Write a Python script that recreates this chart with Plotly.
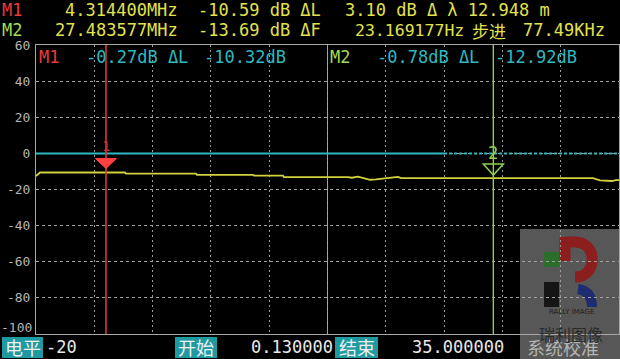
import plotly.graph_objects as go

# ---------------- data ----------------
freq_mhz = [0.13, 0.37, 5.45, 5.51, 9.70, 9.76, 13.11, 13.17, 14.90, 14.96,
            18.79, 19.03, 19.39, 19.69, 20.11, 20.47, 21.12, 21.48, 21.78, 21.96,
            33.44, 33.86, 34.58, 34.82, 35.00]
level_db = [-12.5, -10.6, -10.6, -11.2, -11.2, -11.9, -11.9, -12.3, -12.3, -13.1,
            -13.1, -13.5, -12.9, -13.7, -14.6, -14.4, -13.5, -13.0, -13.0, -13.7,
            -13.7, -15.0, -15.3, -14.8, -14.8]

ref_solid_x = [0.13, 24.539]
ref_solid_y = [0, 0]
ref_dot_x = [24.539, 35.0]
ref_dot_y = [0, 0]

x_start = 0.13
x_stop = 35.0
y_ticks = [60, 40, 20, 0, -20, -40, -60, -80]
y_bottom_tick = -100

m1_freq = 4.314400
m1_db = -10.59
m1_dl = 3.10
m1_lambda = 12.948
m1_rel = -0.27
m1_dl2 = -10.32

m2_freq = 27.483577
m2_db = -13.69
m2_df_hz = 23.169177
m2_step_khz = 77.49
m2_rel = -0.78
m2_dl2 = -12.92

level_setting = -20

# ---------------- styles ----------------
MONO = "DejaVu Sans Mono, Noto Sans CJK SC"
CJK = "Noto Sans CJK SC"
YEL = "#e2e24c"
RED = "#e83a3a"
GRN = "#a0dc50"
CYAN = "#2fb8c0"
TEAL = "#1e9aa0"
GRAY = "#a8a8a8"

L, T, R, B = 36, 45, 619, 334
W, H = R - L, B - T


def px(x):
    return (x - L) / W


def py(y):
    return (B - y) / H


fig = go.Figure()

# reference line (cyan)
fig.add_trace(go.Scatter(x=ref_solid_x, y=ref_solid_y, mode="lines",
                         line=dict(color=CYAN, width=2), hoverinfo="skip"))
fig.add_trace(go.Scatter(x=ref_dot_x, y=ref_dot_y, mode="lines",
                         line=dict(color=CYAN, width=2, dash="3px,2px"), hoverinfo="skip"))

# measured trace
fig.add_trace(go.Scatter(x=freq_mhz, y=level_db, mode="lines",
                         line=dict(color="#d2d23e", width=1.8), hoverinfo="skip"))

# marker lines
fig.add_trace(go.Scatter(x=[m1_freq, m1_freq], y=[-100, 60], mode="lines",
                         line=dict(color="#e03434", width=1.6), hoverinfo="skip"))
fig.add_trace(go.Scatter(x=[m2_freq, m2_freq], y=[-100, 60], mode="lines",
                         line=dict(color="#8ed048", width=1.4), hoverinfo="skip"))

shapes = []
# center solid grid line
shapes.append(dict(type="line", xref="x", yref="paper",
                   x0=(x_start + x_stop) / 2, x1=(x_start + x_stop) / 2, y0=0, y1=1,
                   line=dict(color=GRAY, width=1), layer="below"))

# marker triangles (pixel-sized, anchored at marker value)
shapes.append(dict(type="path", xref="x", yref="y", xsizemode="pixel", ysizemode="pixel",
                   xanchor=m1_freq, yanchor=m1_db,
                   path="M -10.5,14 L 10.5,14 L 0,4 Z",
                   fillcolor="#ff4040", line=dict(color="#ff4040", width=1), layer="above"))
shapes.append(dict(type="path", xref="x", yref="y", xsizemode="pixel", ysizemode="pixel",
                   xanchor=m2_freq, yanchor=m2_db,
                   path="M -10,14 L 10,14 L 0,3 Z",
                   fillcolor="rgba(0,0,0,0)", line=dict(color="#8ed048", width=1.5), layer="above"))

# bottom bar label boxes
for (x0, x1) in [(2, 43), (175, 217), (335, 378)]:
    shapes.append(dict(type="rect", xref="paper", yref="paper",
                       x0=px(x0), x1=px(x1), y0=py(358), y1=py(337),
                       fillcolor=TEAL, line=dict(width=0), layer="above"))

# watermark (decorative)
shapes.append(dict(type="rect", xref="paper", yref="paper",
                   x0=px(520), x1=px(621), y0=py(360), y1=py(229),
                   fillcolor="rgba(140,140,140,0.62)", line=dict(width=0), layer="below"))
ax_, ay_ = px(520), py(229)
shapes.append(dict(type="rect", xref="paper", yref="paper",
                   x0=px(544), x1=px(559), y0=py(267), y1=py(252),
                   fillcolor="#2b6e2b", line=dict(width=0), layer="below"))
shapes.append(dict(type="rect", xref="paper", yref="paper",
                   x0=px(544), x1=px(559), y0=py(307), y1=py(282),
                   fillcolor="#151515", line=dict(width=0), layer="below"))
shapes.append(dict(type="path", xref="paper", yref="paper", xsizemode="pixel", ysizemode="pixel",
                   xanchor=ax_, yanchor=ay_,
                   path="M 45,-8 L 45,-32 M 45,-13 L 55,-13 C 78,-13 78,-48 55,-48",
                   line=dict(color="#8c1e1e", width=11), layer="below"))
shapes.append(dict(type="path", xref="paper", yref="paper", xsizemode="pixel", ysizemode="pixel",
                   xanchor=ax_, yanchor=ay_,
                   path="M 58,-60 Q 72,-62 72,-78",
                   line=dict(color="#1f2c70", width=10), layer="below"))

fig.update_layout(shapes=shapes)


def ann(text, x, y, color, size=17, anchor="left", family=MONO):
    fig.add_annotation(xref="paper", yref="paper", x=px(x), y=py(y), text=text,
                       showarrow=False, xanchor=anchor, yanchor="middle",
                       font=dict(family=family, size=size, color=color), borderpad=0)


# top rows
ann("M1", 1, 10, RED)
ann(f"{m1_freq:.6f}MHz", 64, 10, YEL)
ann(f"{m1_db:.2f} dB ΔL", 197, 10, YEL)
ann(f"{m1_dl:.2f} dB Δ λ {m1_lambda:.3f} m", 344, 10, YEL)
ann("M2", 1, 30, GRN)
ann(f"{m2_freq:.6f}MHz", 54, 30, YEL)
ann(f"{m2_db:.2f} dB ΔF", 197, 30, YEL)
ann(f"{m2_df_hz:.6f}Hz", 354, 30, YEL, size=16.5)
ann("步进", 471, 31, YEL, size=17, family=CJK)
ann(f"{m2_step_khz:.2f}KHz", 522, 30, YEL)

# in-plot header
ann("M1", 38, 57, RED)
ann(f"{m1_rel:.2f}dB ΔL", 85, 57, CYAN)
ann(f"{m1_dl2:.2f}dB", 203, 57, CYAN)
ann("M2", 329, 57, GRN)
ann(f"{m2_rel:.2f}dB ΔL", 376, 57, CYAN)
ann(f"{m2_dl2:.2f}dB", 494, 57, CYAN)

# bottom y tick label (drawn slightly raised, as on the instrument)
fig.add_annotation(xref="paper", yref="y", x=0, y=y_bottom_tick, text=str(y_bottom_tick),
                   showarrow=False, xanchor="right", yanchor="middle", xshift=-3, yshift=7,
                   font=dict(family="DejaVu Sans Mono", size=13, color="#b4b4b4"), borderpad=0)

# marker numbers
fig.add_annotation(x=m1_freq, y=m1_db, xref="x", yref="y", text="1", showarrow=False,
                   yshift=27, font=dict(family=MONO, size=14, color="#c83030"))
fig.add_annotation(x=m2_freq, y=m2_db, xref="x", yref="y", text="2", showarrow=False,
                   yshift=25, font=dict(family=MONO, size=17, color="#8ed048"))

# bottom bar
ann("电平", 22.5, 347, "#f0f0f0", size=18, anchor="center", family=CJK)
ann(f"{level_setting}", 45, 347, "#e8e8e8")
ann("开始", 196, 347, "#f0f0f0", size=18, anchor="center", family=CJK)
ann(f"{x_start:.6f}", 250, 347, "#e8e8e8")
ann("结束", 356.5, 347, "#f0f0f0", size=18, anchor="center", family=CJK)
ann(f"{x_stop:.6f}", 411, 347, "#e8e8e8")
ann("系统校准", 563, 347, "#b4b4b4", size=18, anchor="center", family=CJK)
ann("瑞利图像", 571, 334, "#2a2a2a", size=16, anchor="center", family=CJK)
ann("RALLY IMAGE", 571, 312, "#202020", size=7, anchor="center", family="DejaVu Sans")

fig.update_layout(
    width=620, height=359,
    margin=dict(l=L, r=620 - R, t=T, b=359 - B),
    paper_bgcolor="black", plot_bgcolor="black",
    showlegend=False,
    xaxis=dict(range=[x_start, x_stop], tick0=x_start, dtick=(x_stop - x_start) / 10,
               showticklabels=False, ticks="", showgrid=True, gridcolor="#9c9c9c",
               griddash="2px,3px", gridwidth=1, zeroline=False,
               showline=True, mirror=True, linecolor=GRAY, linewidth=1, fixedrange=True),
    yaxis=dict(range=[-100, 60], tickvals=y_ticks, ticktext=[str(v) for v in y_ticks],
               ticks="", showgrid=True, gridcolor="#a0a0a0", griddash="3px,3px", gridwidth=1,
               zeroline=False, showline=True, mirror=True, linecolor=GRAY, linewidth=1,
               tickfont=dict(family="DejaVu Sans Mono", size=13, color="#b4b4b4"),
               ticklabelstandoff=2, fixedrange=True),
)

fig.write_html("out.html", config={"displayModeBar": False})
